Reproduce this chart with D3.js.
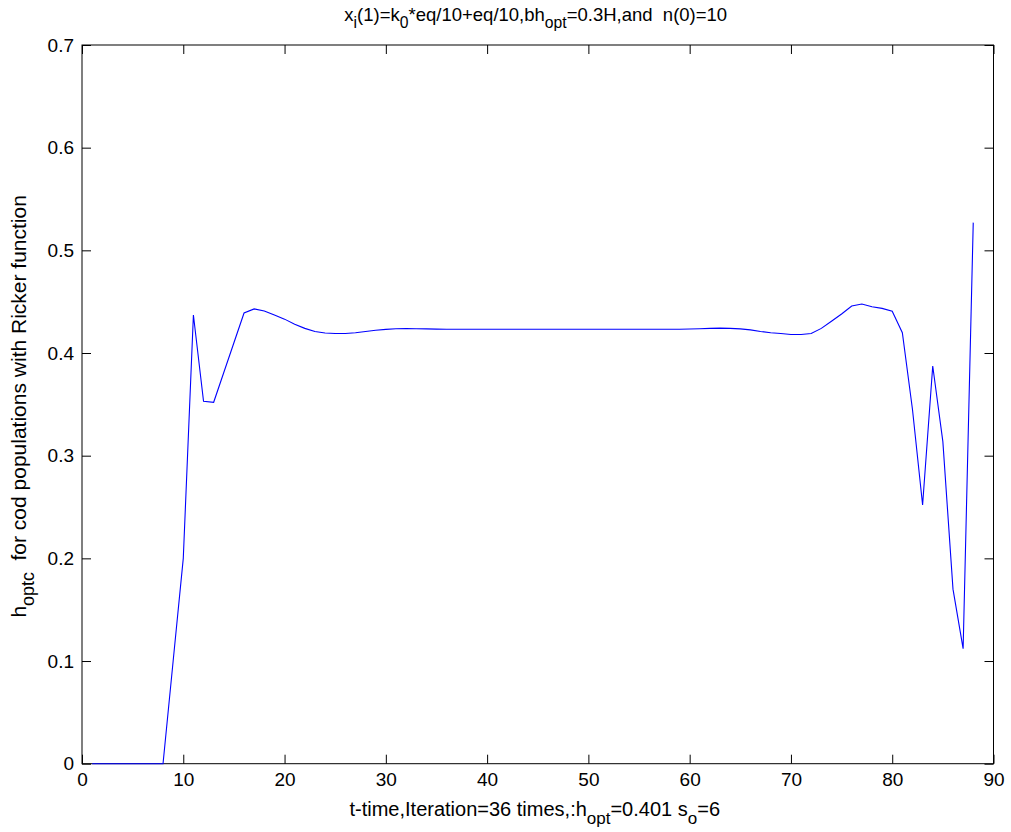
<!DOCTYPE html>
<html>
<head>
<meta charset="utf-8">
<script src="https://cdn.jsdelivr.net/npm/d3@7"></script>
<style>
body{margin:0;background:#fff}
text{font-family:"Liberation Sans",Arial,sans-serif;fill:#000}
</style>
</head>
<body>
<svg id="chart" width="1011" height="832"></svg>
<script>
// t = 1..88
const tValues = d3.range(1, 89)
const hValues = [
	0, 0, 0, 0, 0, 0, 0, 0, 0.1, 0.2,
	0.437, 0.353, 0.352, 0.381, 0.41, 0.439, 0.443, 0.441, 0.437, 0.433,
	0.428, 0.424, 0.421, 0.4195, 0.419, 0.419, 0.4198, 0.421, 0.4222, 0.423,
	0.4236, 0.4238, 0.4237, 0.4235, 0.4233, 0.4232, 0.4231, 0.4231, 0.4231, 0.4231,
	0.4231, 0.4231, 0.4231, 0.4231, 0.4231, 0.4231, 0.4231, 0.4231, 0.4231, 0.4231,
	0.4231, 0.4231, 0.4231, 0.4231, 0.4231, 0.4231, 0.4231, 0.4231, 0.4232, 0.4234,
	0.4236, 0.424, 0.4242, 0.424, 0.4235, 0.4225, 0.421, 0.4198, 0.419, 0.418,
	0.418, 0.419, 0.424, 0.431, 0.438, 0.4458, 0.4477, 0.445, 0.4435, 0.4406,
	0.4198, 0.345, 0.252, 0.3874, 0.3137, 0.17, 0.112, 0.527
]
const xTicks = [0, 10, 20, 30, 40, 50, 60, 70, 80, 90]
const yTicks = [0, 0.1, 0.2, 0.3, 0.4, 0.5, 0.6, 0.7]

const svg = d3.select("#chart")
const mLeft = 82, mRight = 993.5, mTop = 45, mBottom = 763.7

const x = d3.scaleLinear().domain([0, 90]).range([mLeft, mRight])
const y = d3.scaleLinear().domain([0, 0.7]).range([mBottom, mTop])

// box
svg.append("rect")
	.attr("x", mLeft).attr("y", mTop)
	.attr("width", mRight-mLeft).attr("height", mBottom-mTop)
	.attr("fill", "none").attr("stroke", "#000").attr("stroke-width", 1)

const tl = 9
const fmt = d => d===0 ? "0" : d3.format(".1f")(d)

// inward ticks on all four sides
svg.append("g").attr("transform", `translate(0,${mBottom})`)
	.call(d3.axisBottom(x).tickValues(xTicks).tickSizeInner(-tl).tickSizeOuter(0).tickPadding(9).tickFormat(d3.format("d")))
	.call(g=>g.select(".domain").remove())
svg.append("g").attr("transform", `translate(0,${mTop})`)
	.call(d3.axisTop(x).tickValues(xTicks).tickSizeInner(-tl).tickSizeOuter(0).tickFormat(""))
	.call(g=>g.select(".domain").remove())
svg.append("g").attr("transform", `translate(${mLeft},0)`)
	.call(d3.axisLeft(y).tickValues(yTicks).tickSizeInner(-tl).tickSizeOuter(0).tickPadding(8).tickFormat(fmt))
	.call(g=>g.select(".domain").remove())
svg.append("g").attr("transform", `translate(${mRight},0)`)
	.call(d3.axisRight(y).tickValues(yTicks).tickSizeInner(-tl).tickSizeOuter(0).tickFormat(""))
	.call(g=>g.select(".domain").remove())

svg.selectAll(".tick text")
	.style("font-family", "'Liberation Sans',Arial,sans-serif")
	.style("font-size", "19px")
	.attr("fill", "#000")
svg.selectAll(".tick line").attr("stroke", "#000")

// data line
const line = d3.line().x((d, i)=>x(tValues[i])).y(d=>y(d))
svg.append("path")
	.datum(hValues)
	.attr("d", line)
	.attr("fill", "none")
	.attr("stroke", "#0000ff")
	.attr("stroke-width", 1.1)

// text with subscripts: parts = [[text, isSub], ...]
function build(g, parts, size){
	let sub = false
	const t = g.append("text").style("font-size", size+"px").attr("text-anchor", "middle")
	parts.forEach(p=>{
		let dy = 0
		if(p[1] && !sub) dy = size*0.38
		if(!p[1] && sub) dy = -size*0.38
		sub = p[1]
		t.append("tspan").text(p[0]).attr("dy", dy)
			.style("font-size", p[1] ? (size*0.85)+"px" : size+"px")
	})
	return t
}

// title
build(svg.append("g").attr("transform", `translate(${(mLeft+mRight)/2-2},21)`), [
	["x", false], ["i", true], ["(1)=k", false], ["0", true],
	["*eq/10+eq/10,bh", false], ["opt", true], ["=0.3H,and\u00a0\u00a0n(0)=10", false]
], 18.5)

// x label
build(svg.append("g").attr("transform", `translate(${(mLeft+mRight)/2-3},816)`), [
	["t-time,Iteration=36 times,:h", false], ["opt", true], ["=0.401 s", false], ["o", true], ["=6", false]
], 20)

// y label
build(svg.append("g").attr("transform", `translate(26,${(mTop+mBottom)/2+2}) rotate(-90)`), [
	["h", false], ["optc", true], ["\u00a0\u00a0for cod populations with Ricker function", false]
], 21)
</script>
</body>
</html>
